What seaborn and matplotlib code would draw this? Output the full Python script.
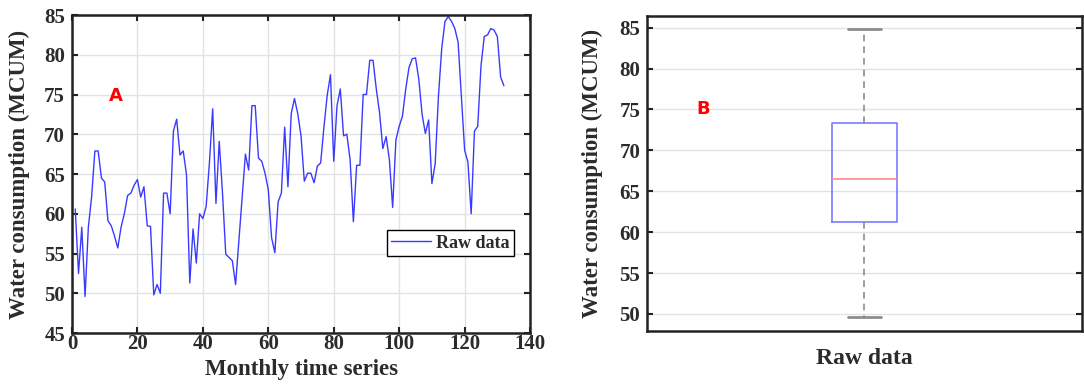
import numpy as np
import pandas as pd
import matplotlib
matplotlib.use("Agg")
import matplotlib.pyplot as plt
import seaborn as sns

# monthly water consumption (MCUM)
months = list(range(1, 133))
consumption = [
    60.6, 52.5, 58.3, 49.6, 58.3, 62.1, 67.9, 67.9, 64.5, 64.0,
    59.1, 58.5, 57.2, 55.7, 58.3, 60.0, 62.3, 62.6, 63.6, 64.3,
    62.1, 63.4, 58.5, 58.4, 49.8, 51.1, 50.0, 62.6, 62.6, 60.0,
    70.4, 71.9, 67.4, 67.9, 64.9, 51.3, 58.1, 53.8, 60.0, 59.4,
    60.9, 66.4, 73.2, 61.3, 69.1, 62.6, 54.9, 54.5, 54.1, 51.1,
    56.6, 62.2, 67.5, 65.5, 73.6, 73.6, 67.0, 66.6, 65.1, 63.0,
    57.0, 55.1, 61.5, 62.6, 70.9, 63.4, 72.6, 74.5, 72.6, 69.8,
    64.1, 65.1, 65.1, 63.9, 66.0, 66.4, 70.9, 74.9, 77.5, 66.6,
    73.6, 75.7, 69.8, 70.0, 66.8, 59.0, 66.1, 66.1, 75.0, 75.0,
    79.3, 79.3, 75.7, 72.7, 68.2, 69.7, 66.8, 60.8, 69.3, 71.0,
    72.3, 75.7, 78.4, 79.5, 79.6, 76.9, 72.5, 70.1, 71.8, 63.8,
    66.3, 74.8, 80.8, 84.2, 84.8, 84.2, 83.3, 81.6, 74.8, 68.0,
    66.5, 60.0, 70.4, 71.0, 78.6, 82.3, 82.5, 83.3, 83.1, 82.3,
    77.2, 76.1,
]
series_name = "Raw data"
x_ticks = [0, 20, 40, 60, 80, 100, 120, 140]
y_ticks_a = [45, 50, 55, 60, 65, 70, 75, 80, 85]
y_ticks_b = [50, 55, 60, 65, 70, 75, 80, 85]

df = pd.DataFrame({"month": months, "value": consumption, "series": series_name})

sns.set_theme(style="white")
plt.rcParams["font.family"] = ["Liberation Serif", "DejaVu Serif"]
plt.rcParams["font.weight"] = "bold"
plt.rcParams["axes.labelweight"] = "bold"
plt.rcParams["text.color"] = "#2b2b2b"
plt.rcParams["axes.labelcolor"] = "#2b2b2b"

fig = plt.figure(figsize=(10.84, 3.85), dpi=100)
ax1 = fig.add_axes([0.0664, 0.135, 0.4226, 0.826])
ax2 = fig.add_axes([0.597, 0.140, 0.401, 0.818])

grid_kw = dict(color="#e3e3e3", linewidth=1.0)
tick_kw = dict(direction="in", length=4, width=1.5, labelsize=15,
               color="#222222", labelcolor="#2b2b2b")

# Panel A: raw time series
sns.lineplot(data=df, x="month", y="value", ax=ax1, color="#3a3aff",
             linewidth=1.0, label=series_name)
ax1.set_xlim(0, 140)
ax1.set_ylim(45, 85)
ax1.set_xticks(x_ticks)
ax1.set_yticks(y_ticks_a)
ax1.grid(True, **grid_kw)
ax1.tick_params(axis="y", left=True, right=True, pad=5, **tick_kw)
ax1.tick_params(axis="x", bottom=True, top=True, pad=1, **tick_kw)
ax1.set_xlabel("Monthly time series", fontsize=16.5, labelpad=3)
ax1.set_ylabel("Water consumption (MCUM)", fontsize=16.5, labelpad=10)
ax1.text(13.5, 74.8, "A", color="red", fontsize=13, fontweight="bold",
         family="DejaVu Sans", ha="center", va="center")
leg = ax1.legend(loc="center right", bbox_to_anchor=(0.985, 0.283),
                 fancybox=False, framealpha=1, edgecolor="black",
                 fontsize=13, handlelength=2.2, borderpad=0.25,
                 handletextpad=0.3)
leg.get_frame().set_linewidth(1.0)

# Panel B: box plot of the same data
sns.boxplot(data=df, x="series", y="value", ax=ax2, width=0.15, fill=False,
            linewidth=1.2,
            boxprops=dict(color="#7a7aff"),
            medianprops=dict(color="#ff8a8a"),
            whiskerprops=dict(color="#8c8c8c", linestyle=(0, (4, 3))),
            capprops=dict(color="#8c8c8c", linewidth=2))
ax2.set_ylim(47.9, 86.4)
ax2.set_yticks(y_ticks_b)
ax2.yaxis.grid(True, **grid_kw)
ax2.set_axisbelow(True)
ax2.tick_params(axis="y", left=True, right=True, pad=5, **tick_kw)
ax2.tick_params(axis="x", length=0, labelsize=17, pad=12, labelcolor="#2b2b2b")
ax2.set_xlabel("")
ax2.set_ylabel("Water consumption (MCUM)", fontsize=16.5, labelpad=12)
ax2.text(0.128, 75, "B", color="red", fontsize=13, fontweight="bold",
         family="DejaVu Sans", ha="center", va="center",
         transform=ax2.get_yaxis_transform())

for ax in (ax1, ax2):
    for sp in ax.spines.values():
        sp.set_visible(True)
        sp.set_color("#222222")
        sp.set_linewidth(1.8)
    for lab in ax.get_xticklabels() + ax.get_yticklabels():
        lab.set_fontweight("bold")

fig.savefig("out.png", dpi=100)
